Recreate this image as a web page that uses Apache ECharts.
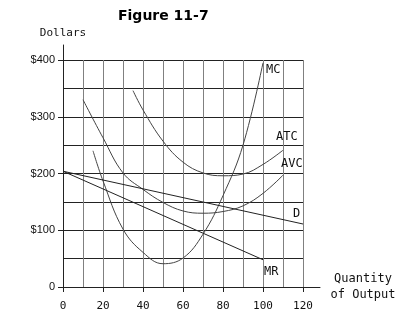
<!DOCTYPE html>
<html><head><meta charset="utf-8">
<script src="https://cdn.jsdelivr.net/npm/echarts@6/dist/echarts.min.js"></script>
<style>html,body{margin:0;padding:0;background:#fff}#c{width:399px;height:318px}</style>
</head><body><div id="c"></div>
<script>
// ---- data ----
const mcX  = [15, 20, 30, 40, 50, 60, 70, 80, 90, 100];
const mcY  = [240, 187, 102, 61, 41, 51, 93, 161, 250, 395];
const atcX = [35, 40, 50, 60, 70, 80, 90, 100, 110];
const atcY = [346, 312, 257, 220, 201, 196, 199, 216, 241];
const avcX = [10, 20, 30, 40, 50, 60, 70, 80, 90, 100, 110];
const avcY = [330, 263, 201, 172, 149, 134, 130, 133, 143, 165, 197];
const dX   = [0, 120];
const dY   = [204, 111];
const mrX  = [0, 100];
const mrY  = [204, 48];
const yTickValues = [0, 100, 200, 300, 400];
const yTickLabels = ['0', '$100', '$200', '$300', '$400'];
const curveNames = ['MC', 'ATC', 'AVC', 'D', 'MR'];

const mono = 'DejaVu Sans Mono';
function pts(xs, ys){ return xs.map((x,i)=>[x, ys[i]]); }
function curve(name, xs, ys, color, smooth, offset){
  return {
    type:'line', name:name, xAxisIndex:0, yAxisIndex:0,
    data:pts(xs, ys), showSymbol:false, symbol:'none', smooth:smooth,
    lineStyle:{color:color, width:1},
    endLabel:{show:true, formatter:name, distance:0, offset:offset,
      color:'#111', fontFamily:mono, fontSize:12}
  };
}
const chart = echarts.init(document.getElementById('c'), null, {renderer:'canvas'});
chart.setOption({
  animation:false,
  backgroundColor:'#fff',
  title:{text:'Figure 11-7', left:113, top:4,
    textStyle:{fontFamily:'DejaVu Sans', fontWeight:'bold', fontSize:14, color:'#000'}},
  grid:[
    {left:63, top:60, width:240, height:227},
    {left:63, top:45, right:79, bottom:31}
  ],
  xAxis:[
    {type:'value', gridIndex:0, min:0, max:120, interval:20,
     axisLine:{show:true, lineStyle:{color:'#222', width:1}},
     axisTick:{show:true, length:5, lineStyle:{color:'#222'}},
     minorTick:{show:false, splitNumber:2},
     minorSplitLine:{show:true, lineStyle:{color:'#808080', width:1}},
     splitLine:{show:true, lineStyle:{color:'#808080', width:1}},
     axisLabel:{margin:14, fontFamily:mono, fontSize:11, color:'#111'},
     name:'Quantity\nof Output', nameLocation:'end', nameGap:60,
     nameTextStyle:{fontFamily:mono, fontSize:12, color:'#111', align:'center',
       verticalAlign:'middle', lineHeight:16, padding:[10,0,0,0]}},
    {type:'value', gridIndex:1, min:0, max:1,
     axisLine:{show:true, lineStyle:{color:'#222', width:1}},
     axisTick:{show:false}, axisLabel:{show:false}, splitLine:{show:false}}
  ],
  yAxis:[
    {type:'value', gridIndex:0, min:0, max:400, interval:100,
     axisLine:{show:true, lineStyle:{color:'#222', width:1}},
     axisTick:{show:true, length:5, lineStyle:{color:'#222'}},
     minorTick:{show:false, splitNumber:2},
     minorSplitLine:{show:true, lineStyle:{color:'#222', width:1}},
     splitLine:{show:true, lineStyle:{color:'#222', width:1}},
     axisLabel:{margin:8, fontFamily:'Liberation Sans', fontSize:11, color:'#111',
       formatter:v=>{const i=yTickValues.indexOf(v); return i>=0?yTickLabels[i]:'';}},
     name:'Dollars', nameLocation:'end', nameGap:27,
     nameTextStyle:{fontFamily:mono, fontSize:11, color:'#111', align:'center', verticalAlign:'middle'}},
    {type:'value', gridIndex:1, min:0, max:1,
     axisLine:{show:true, lineStyle:{color:'#222', width:1}},
     axisTick:{show:false}, axisLabel:{show:false}, splitLine:{show:false}}
  ],
  series:[
    curve(curveNames[0], mcX, mcY, '#444', 0.4, [3, 7]),
    curve(curveNames[1], atcX, atcY, '#444', 0.4, [-7, -13]),
    curve(curveNames[2], avcX, avcY, '#444', 0.4, [-2, -11]),
    curve(curveNames[3], dX, dY, '#222', false, [-10, -10]),
    curve(curveNames[4], mrX, mrY, '#222', false, [1, 12])
  ]
});
</script></body></html>
